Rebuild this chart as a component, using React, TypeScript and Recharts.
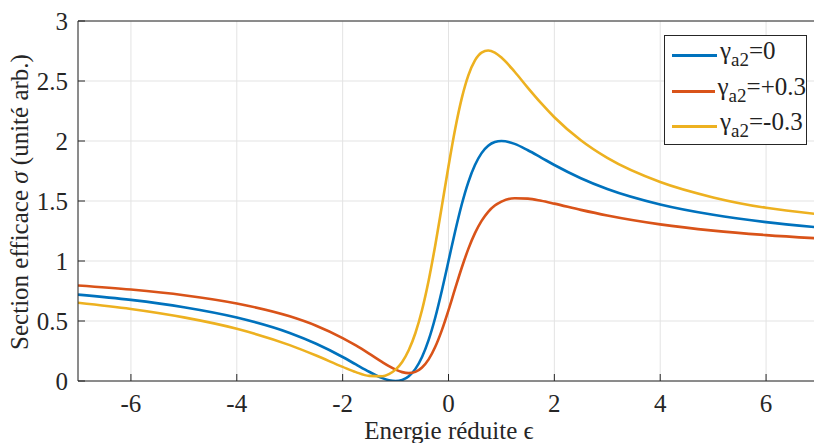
import React from 'react';
import { LineChart, Line, XAxis, YAxis, CartesianGrid } from 'recharts';

// reduced energy (x) and cross-section values
const eps = [-7, -6, -5, -4, -3, -2.5, -2, -1.75, -1.5, -1.25, -1.125, -1, -0.875, -0.75, -0.625, -0.5, -0.375, -0.25, -0.125, 0, 0.125, 0.25, 0.375, 0.5, 0.625, 0.75, 0.875, 1, 1.25, 1.5, 1.75, 2, 2.5, 3, 4, 5, 6, 7];
const sigmaZero = [0.72, 0.676, 0.615, 0.529, 0.4, 0.31, 0.2, 0.138, 0.077, 0.024, 0.007, 0, 0.009, 0.04, 0.101, 0.2, 0.342, 0.529, 0.754, 1, 1.246, 1.471, 1.658, 1.8, 1.899, 1.96, 1.991, 2, 1.976, 1.923, 1.862, 1.8, 1.69, 1.6, 1.471, 1.385, 1.324, 1.28];
const sigmaPlus = [0.796, 0.762, 0.715, 0.646, 0.539, 0.461, 0.358, 0.296, 0.228, 0.157, 0.124, 0.095, 0.074, 0.066, 0.076, 0.112, 0.18, 0.285, 0.424, 0.59, 0.769, 0.944, 1.101, 1.232, 1.334, 1.41, 1.462, 1.495, 1.523, 1.52, 1.502, 1.478, 1.426, 1.379, 1.305, 1.253, 1.216, 1.188];
const sigmaMinus = [0.652, 0.6, 0.53, 0.435, 0.299, 0.212, 0.118, 0.074, 0.043, 0.04, 0.058, 0.095, 0.159, 0.258, 0.4, 0.592, 0.838, 1.132, 1.458, 1.79, 2.098, 2.355, 2.547, 2.672, 2.737, 2.754, 2.736, 2.695, 2.577, 2.443, 2.315, 2.198, 2.006, 1.859, 1.658, 1.53, 1.443, 1.39];

const xTicks = [-6, -4, -2, 0, 2, 4, 6];
const yTicks = [0, 0.5, 1, 1.5, 2, 2.5, 3];

const seriesNames = ['=0', '=+0.3', '=-0.3'];
const seriesKeys = ['g0', 'gp', 'gm'];
const seriesColors = ['#0072BD', '#D95319', '#EDB120'];

const rows = eps.map((e, i) => ({
  e,
  g0: sigmaZero[i],
  gp: sigmaPlus[i],
  gm: sigmaMinus[i],
}));

const FONT = 'Liberation Serif';
const AXIS = '#262626';

const LegendBox = () => (
  <div
    style={{
      position: 'absolute',
      left: 664,
      top: 35,
      border: `1px solid ${AXIS}`,
      background: '#fff',
      width: 143,
      height: 110,
      boxSizing: 'border-box',
      fontFamily: FONT,
      color: '#222',
      paddingTop: 2,
    }}
  >
    {seriesNames.map((n, i) => (
      <div key={n} style={{ display: 'flex', alignItems: 'center', height: 35.5, paddingLeft: 7 }}>
        <span style={{ width: 45, height: 3, background: seriesColors[i], display: 'inline-block' }} />
        <span style={{ fontSize: 25, marginLeft: 3, lineHeight: '24px', whiteSpace: 'nowrap' }}>
          γ<sub style={{ fontSize: 19, verticalAlign: '-7px' }}>a2</sub>{n}
        </span>
      </div>
    ))}
  </div>
);

export default function App() {
  return (
    <div style={{ position: 'fixed', left: 0, top: 0, width: 814, height: 443, overflow: 'hidden', background: '#fff', fontFamily: FONT }}>
      <LineChart width={830} height={443} data={rows} margin={{ top: 20, right: 11, bottom: 61, left: 77 }}>
        <CartesianGrid stroke="#e3e3e3" strokeWidth={1} />
        <XAxis
          dataKey="e"
          type="number"
          domain={[-7, 7]}
          ticks={xTicks}
          height={1}
          allowDataOverflow
          stroke={AXIS}
          tickSize={-7}
          tickMargin={20}
          tick={{ fill: '#262626', fontSize: 25, fontFamily: FONT }}
          label={{
            content: () => (
              <text x={449} y={439} textAnchor="middle" fill="#262626" fontSize={25} fontFamily={FONT}>
                Energie réduite ϵ
              </text>
            ),
          }}
        />
        <XAxis
          xAxisId="top"
          orientation="top"
          dataKey="e"
          type="number"
          domain={[-7, 7]}
          ticks={xTicks}
          height={1}
          stroke={AXIS}
          tickSize={-7}
          tick={false}
        />
        <YAxis
          type="number"
          domain={[0, 3]}
          ticks={yTicks}
          width={1}
          allowDataOverflow
          stroke={AXIS}
          tickSize={-7}
          tickMargin={17}
          tick={{ fill: '#262626', fontSize: 25, fontFamily: FONT }}
          label={{
            content: () => (
              <text
                x={0}
                y={0}
                transform="translate(28 202) rotate(-90)"
                textAnchor="middle"
                fill="#262626"
                fontSize={25}
                fontFamily={FONT}
              >
                Section efficace <tspan fontStyle="italic">σ</tspan> (unité arb.)
              </text>
            ),
          }}
        />
        {seriesKeys.map((k, i) => (
          <Line
            key={k}
            type="monotone"
            dataKey={k}
            stroke={seriesColors[i]}
            strokeWidth={2.6}
            dot={false}
            activeDot={false}
            isAnimationActive={false}
          />
        ))}
      </LineChart>
      <LegendBox />
    </div>
  );
}
